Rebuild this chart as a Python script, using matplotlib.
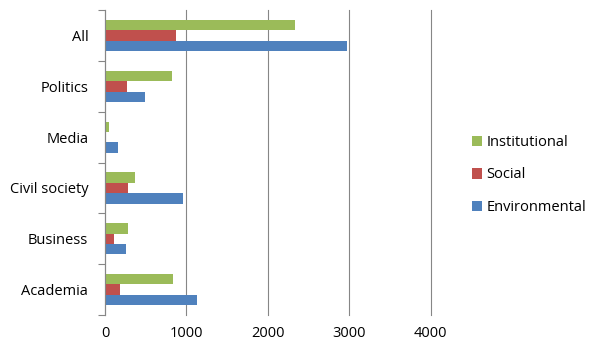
import matplotlib
matplotlib.use("Agg")
import matplotlib.pyplot as plt
import numpy as np

categories = ["Academia", "Business", "Civil society", "Media", "Politics", "All"]
environmental = [1125, 258, 957, 155, 485, 2977]
social = [184, 114, 278, 10, 266, 867]
institutional = [838, 278, 368, 49, 817, 2331]
xticks = [0, 1000, 2000, 3000, 4000]

plt.rcParams['font.family'] = ['Open Sans', 'DejaVu Sans']
fig = plt.figure(figsize=(6, 3.5), dpi=100)
ax = fig.add_axes([0.175, 0.1, 0.543, 0.871])

y = np.arange(len(categories))
h = 0.205
ax.barh(y - h, environmental, height=h, color="#4F81BD", label="Environmental", zorder=3)
ax.barh(y, social, height=h, color="#C0504D", label="Social", zorder=3)
ax.barh(y + h, institutional, height=h, color="#9BBB59", label="Institutional", zorder=3)

ax.set_xlim(0, 4000)
ax.set_ylim(-0.5, len(categories) - 0.5)
ax.set_xticks(xticks)
ax.set_xticklabels([str(v) for v in xticks], fontsize=10.5)
ax.tick_params(axis='x', length=0, pad=8)
ax.set_yticks(y)
ax.set_yticklabels(categories, fontsize=10.5)
ax.tick_params(axis='y', which='major', length=0, pad=12)
ax.set_yticks(np.arange(len(categories) + 1) - 0.5, minor=True)
ax.tick_params(axis='y', which='minor', length=5, color="#868686", width=0.8)
ax.grid(axis='x', color="#868686", linewidth=0.8, zorder=0)
for line in ax.get_xgridlines():
    line.set_clip_on(False)
for s in ['top', 'right', 'bottom']:
    ax.spines[s].set_visible(False)
ax.spines['left'].set_color("#868686")
ax.spines['left'].set_linewidth(0.8)
ax.spines['left'].set_zorder(4)

handles, labels = ax.get_legend_handles_labels()
fig.legend(handles[::-1], labels[::-1], loc='center left', bbox_to_anchor=(0.765, 0.5),
           frameon=False, fontsize=10.5, handlelength=0.7, handleheight=0.7,
           handletextpad=0.3, labelspacing=1.2)

fig.savefig("out.png", dpi=100)
